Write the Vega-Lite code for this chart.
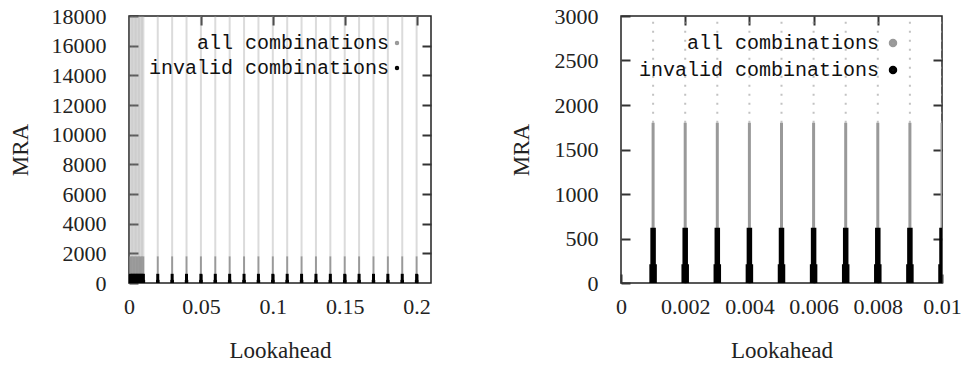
{
  "$schema": "https://vega.github.io/schema/vega-lite/v6.json",
  "padding": {"left": 8, "top": 4, "right": 0, "bottom": 0},
  "background": "white",
  "spacing": 76,
  "datasets": {
    "mra": [
      {"lookahead":0.001,"set":"all combinations","part":"sparse","lo":1800,"hi":18000},
      {"lookahead":0.002,"set":"all combinations","part":"sparse","lo":1800,"hi":18000},
      {"lookahead":0.003,"set":"all combinations","part":"sparse","lo":1800,"hi":18000},
      {"lookahead":0.004,"set":"all combinations","part":"sparse","lo":1800,"hi":18000},
      {"lookahead":0.005,"set":"all combinations","part":"sparse","lo":1800,"hi":18000},
      {"lookahead":0.006,"set":"all combinations","part":"sparse","lo":1800,"hi":18000},
      {"lookahead":0.007,"set":"all combinations","part":"sparse","lo":1800,"hi":18000},
      {"lookahead":0.008,"set":"all combinations","part":"sparse","lo":1800,"hi":18000},
      {"lookahead":0.009,"set":"all combinations","part":"sparse","lo":1800,"hi":18000},
      {"lookahead":0.01,"set":"all combinations","part":"sparse","lo":1800,"hi":18000},
      {"lookahead":0.02,"set":"all combinations","part":"sparse","lo":1800,"hi":18000},
      {"lookahead":0.03,"set":"all combinations","part":"sparse","lo":1800,"hi":18000},
      {"lookahead":0.04,"set":"all combinations","part":"sparse","lo":1800,"hi":18000},
      {"lookahead":0.05,"set":"all combinations","part":"sparse","lo":1800,"hi":18000},
      {"lookahead":0.06,"set":"all combinations","part":"sparse","lo":1800,"hi":18000},
      {"lookahead":0.07,"set":"all combinations","part":"sparse","lo":1800,"hi":18000},
      {"lookahead":0.08,"set":"all combinations","part":"sparse","lo":1800,"hi":18000},
      {"lookahead":0.09,"set":"all combinations","part":"sparse","lo":1800,"hi":18000},
      {"lookahead":0.1,"set":"all combinations","part":"sparse","lo":1800,"hi":18000},
      {"lookahead":0.11,"set":"all combinations","part":"sparse","lo":1800,"hi":18000},
      {"lookahead":0.12,"set":"all combinations","part":"sparse","lo":1800,"hi":18000},
      {"lookahead":0.13,"set":"all combinations","part":"sparse","lo":1800,"hi":18000},
      {"lookahead":0.14,"set":"all combinations","part":"sparse","lo":1800,"hi":18000},
      {"lookahead":0.15,"set":"all combinations","part":"sparse","lo":1800,"hi":18000},
      {"lookahead":0.16,"set":"all combinations","part":"sparse","lo":1800,"hi":18000},
      {"lookahead":0.17,"set":"all combinations","part":"sparse","lo":1800,"hi":18000},
      {"lookahead":0.18,"set":"all combinations","part":"sparse","lo":1800,"hi":18000},
      {"lookahead":0.19,"set":"all combinations","part":"sparse","lo":1800,"hi":18000},
      {"lookahead":0.2,"set":"all combinations","part":"sparse","lo":1800,"hi":18000},
      {"lookahead":0.001,"set":"all combinations","part":"dense","lo":0,"hi":1800},
      {"lookahead":0.002,"set":"all combinations","part":"dense","lo":0,"hi":1800},
      {"lookahead":0.003,"set":"all combinations","part":"dense","lo":0,"hi":1800},
      {"lookahead":0.004,"set":"all combinations","part":"dense","lo":0,"hi":1800},
      {"lookahead":0.005,"set":"all combinations","part":"dense","lo":0,"hi":1800},
      {"lookahead":0.006,"set":"all combinations","part":"dense","lo":0,"hi":1800},
      {"lookahead":0.007,"set":"all combinations","part":"dense","lo":0,"hi":1800},
      {"lookahead":0.008,"set":"all combinations","part":"dense","lo":0,"hi":1800},
      {"lookahead":0.009,"set":"all combinations","part":"dense","lo":0,"hi":1800},
      {"lookahead":0.01,"set":"all combinations","part":"dense","lo":0,"hi":1800},
      {"lookahead":0.02,"set":"all combinations","part":"dense","lo":0,"hi":1800},
      {"lookahead":0.03,"set":"all combinations","part":"dense","lo":0,"hi":1800},
      {"lookahead":0.04,"set":"all combinations","part":"dense","lo":0,"hi":1800},
      {"lookahead":0.05,"set":"all combinations","part":"dense","lo":0,"hi":1800},
      {"lookahead":0.06,"set":"all combinations","part":"dense","lo":0,"hi":1800},
      {"lookahead":0.07,"set":"all combinations","part":"dense","lo":0,"hi":1800},
      {"lookahead":0.08,"set":"all combinations","part":"dense","lo":0,"hi":1800},
      {"lookahead":0.09,"set":"all combinations","part":"dense","lo":0,"hi":1800},
      {"lookahead":0.1,"set":"all combinations","part":"dense","lo":0,"hi":1800},
      {"lookahead":0.11,"set":"all combinations","part":"dense","lo":0,"hi":1800},
      {"lookahead":0.12,"set":"all combinations","part":"dense","lo":0,"hi":1800},
      {"lookahead":0.13,"set":"all combinations","part":"dense","lo":0,"hi":1800},
      {"lookahead":0.14,"set":"all combinations","part":"dense","lo":0,"hi":1800},
      {"lookahead":0.15,"set":"all combinations","part":"dense","lo":0,"hi":1800},
      {"lookahead":0.16,"set":"all combinations","part":"dense","lo":0,"hi":1800},
      {"lookahead":0.17,"set":"all combinations","part":"dense","lo":0,"hi":1800},
      {"lookahead":0.18,"set":"all combinations","part":"dense","lo":0,"hi":1800},
      {"lookahead":0.19,"set":"all combinations","part":"dense","lo":0,"hi":1800},
      {"lookahead":0.2,"set":"all combinations","part":"dense","lo":0,"hi":1800},
      {"lookahead":0.001,"set":"invalid combinations","part":"core","lo":0,"hi":620},
      {"lookahead":0.002,"set":"invalid combinations","part":"core","lo":0,"hi":620},
      {"lookahead":0.003,"set":"invalid combinations","part":"core","lo":0,"hi":620},
      {"lookahead":0.004,"set":"invalid combinations","part":"core","lo":0,"hi":620},
      {"lookahead":0.005,"set":"invalid combinations","part":"core","lo":0,"hi":620},
      {"lookahead":0.006,"set":"invalid combinations","part":"core","lo":0,"hi":620},
      {"lookahead":0.007,"set":"invalid combinations","part":"core","lo":0,"hi":620},
      {"lookahead":0.008,"set":"invalid combinations","part":"core","lo":0,"hi":620},
      {"lookahead":0.009,"set":"invalid combinations","part":"core","lo":0,"hi":620},
      {"lookahead":0.01,"set":"invalid combinations","part":"core","lo":0,"hi":620},
      {"lookahead":0.02,"set":"invalid combinations","part":"core","lo":0,"hi":620},
      {"lookahead":0.03,"set":"invalid combinations","part":"core","lo":0,"hi":620},
      {"lookahead":0.04,"set":"invalid combinations","part":"core","lo":0,"hi":620},
      {"lookahead":0.05,"set":"invalid combinations","part":"core","lo":0,"hi":620},
      {"lookahead":0.06,"set":"invalid combinations","part":"core","lo":0,"hi":620},
      {"lookahead":0.07,"set":"invalid combinations","part":"core","lo":0,"hi":620},
      {"lookahead":0.08,"set":"invalid combinations","part":"core","lo":0,"hi":620},
      {"lookahead":0.09,"set":"invalid combinations","part":"core","lo":0,"hi":620},
      {"lookahead":0.1,"set":"invalid combinations","part":"core","lo":0,"hi":620},
      {"lookahead":0.11,"set":"invalid combinations","part":"core","lo":0,"hi":620},
      {"lookahead":0.12,"set":"invalid combinations","part":"core","lo":0,"hi":620},
      {"lookahead":0.13,"set":"invalid combinations","part":"core","lo":0,"hi":620},
      {"lookahead":0.14,"set":"invalid combinations","part":"core","lo":0,"hi":620},
      {"lookahead":0.15,"set":"invalid combinations","part":"core","lo":0,"hi":620},
      {"lookahead":0.16,"set":"invalid combinations","part":"core","lo":0,"hi":620},
      {"lookahead":0.17,"set":"invalid combinations","part":"core","lo":0,"hi":620},
      {"lookahead":0.18,"set":"invalid combinations","part":"core","lo":0,"hi":620},
      {"lookahead":0.19,"set":"invalid combinations","part":"core","lo":0,"hi":620},
      {"lookahead":0.2,"set":"invalid combinations","part":"core","lo":0,"hi":620},
      {"lookahead":0.001,"set":"invalid combinations","part":"base","lo":0,"hi":210},
      {"lookahead":0.002,"set":"invalid combinations","part":"base","lo":0,"hi":210},
      {"lookahead":0.003,"set":"invalid combinations","part":"base","lo":0,"hi":210},
      {"lookahead":0.004,"set":"invalid combinations","part":"base","lo":0,"hi":210},
      {"lookahead":0.005,"set":"invalid combinations","part":"base","lo":0,"hi":210},
      {"lookahead":0.006,"set":"invalid combinations","part":"base","lo":0,"hi":210},
      {"lookahead":0.007,"set":"invalid combinations","part":"base","lo":0,"hi":210},
      {"lookahead":0.008,"set":"invalid combinations","part":"base","lo":0,"hi":210},
      {"lookahead":0.009,"set":"invalid combinations","part":"base","lo":0,"hi":210},
      {"lookahead":0.01,"set":"invalid combinations","part":"base","lo":0,"hi":210},
      {"lookahead":0.02,"set":"invalid combinations","part":"base","lo":0,"hi":210},
      {"lookahead":0.03,"set":"invalid combinations","part":"base","lo":0,"hi":210},
      {"lookahead":0.04,"set":"invalid combinations","part":"base","lo":0,"hi":210},
      {"lookahead":0.05,"set":"invalid combinations","part":"base","lo":0,"hi":210},
      {"lookahead":0.06,"set":"invalid combinations","part":"base","lo":0,"hi":210},
      {"lookahead":0.07,"set":"invalid combinations","part":"base","lo":0,"hi":210},
      {"lookahead":0.08,"set":"invalid combinations","part":"base","lo":0,"hi":210},
      {"lookahead":0.09,"set":"invalid combinations","part":"base","lo":0,"hi":210},
      {"lookahead":0.1,"set":"invalid combinations","part":"base","lo":0,"hi":210},
      {"lookahead":0.11,"set":"invalid combinations","part":"base","lo":0,"hi":210},
      {"lookahead":0.12,"set":"invalid combinations","part":"base","lo":0,"hi":210},
      {"lookahead":0.13,"set":"invalid combinations","part":"base","lo":0,"hi":210},
      {"lookahead":0.14,"set":"invalid combinations","part":"base","lo":0,"hi":210},
      {"lookahead":0.15,"set":"invalid combinations","part":"base","lo":0,"hi":210},
      {"lookahead":0.16,"set":"invalid combinations","part":"base","lo":0,"hi":210},
      {"lookahead":0.17,"set":"invalid combinations","part":"base","lo":0,"hi":210},
      {"lookahead":0.18,"set":"invalid combinations","part":"base","lo":0,"hi":210},
      {"lookahead":0.19,"set":"invalid combinations","part":"base","lo":0,"hi":210},
      {"lookahead":0.2,"set":"invalid combinations","part":"base","lo":0,"hi":210}
    ]
  },
  "hconcat": [
    {
      "width": 302,
      "height": 267,
      "data": {"name": "mra"},
      "layer": [
        {
          "mark": {"type": "rule", "clip": true},
          "encoding": {
            "x": {"field": "lookahead", "type": "quantitative", "title": "Lookahead",
                  "scale": {"domain": [0, 0.21], "nice": false, "zero": false},
                  "axis": {"orient": "bottom", "values": [0, 0.05, 0.1, 0.15, 0.2], "format": "~g", "labelPadding": 22, "titlePadding": 22, "labelFlush": false, "labelOverlap": false}},
            "y": {"field": "lo", "type": "quantitative", "title": "MRA",
                  "scale": {"domain": [0, 18000], "nice": false},
                  "axis": {"orient": "left", "values": [0,2000,4000,6000,8000,10000,12000,14000,16000,18000], "format": "d", "labelPadding": 32, "titlePadding": 19, "labelFlush": false, "labelOverlap": false}},
            "y2": {"field": "hi"},
            "color": {"field": "set", "type": "nominal",
                      "scale": {"domain": ["all combinations", "invalid combinations"], "range": ["#999999", "#000000"]},
                      "legend": {"title": null, "orient": "none", "legendX": 258, "legendY": 17, "symbolType": "circle", "symbolSize": 6, "symbolStrokeWidth": 2, "labelAlign": "right", "labelOffset": -18}},
            "strokeWidth": {"field": "part", "type": "nominal",
                            "scale": {"type": "ordinal", "domain": ["sparse", "dense", "core", "base"], "range": [2, 2, 3, 3.5]}, "legend": null},
            "opacity": {"field": "part", "type": "nominal",
                        "scale": {"type": "ordinal", "domain": ["sparse", "dense", "core", "base"], "range": [0.35, 1, 1, 1]}, "legend": null}
          }
        },
        {
          "mark": {"type": "point", "opacity": 0},
          "encoding": {
            "x": {"field": "lookahead", "type": "quantitative",
                  "axis": {"orient": "top", "values": [0.05, 0.1, 0.15, 0.2], "labels": false, "title": null}},
            "y": {"field": "lo", "type": "quantitative",
                  "axis": {"orient": "right", "values": [2000,4000,6000,8000,10000,12000,14000,16000], "labels": false, "title": null}}
          }
        }
      ],
      "resolve": {"axis": {"x": "independent", "y": "independent"}}
    },
    {
      "width": 321,
      "height": 267,
      "data": {"name": "mra"},
      "layer": [
        {
          "mark": {"type": "rule", "clip": true},
          "encoding": {
            "x": {"field": "lookahead", "type": "quantitative", "title": "Lookahead",
                  "scale": {"domain": [0, 0.01], "nice": false, "zero": false},
                  "axis": {"orient": "bottom", "values": [0, 0.002, 0.004, 0.006, 0.008, 0.01], "format": "~g", "labelPadding": 22, "titlePadding": 22, "labelFlush": false, "labelOverlap": false}},
            "y": {"field": "lo", "type": "quantitative", "title": "MRA",
                  "scale": {"domain": [0, 3000], "nice": false},
                  "axis": {"orient": "left", "values": [0,500,1000,1500,2000,2500,3000], "format": "d", "labelPadding": 32, "titlePadding": 21, "labelFlush": false, "labelOverlap": false}},
            "y2": {"field": "hi"},
            "color": {"field": "set", "type": "nominal",
                      "scale": {"domain": ["all combinations", "invalid combinations"], "range": ["#999999", "#000000"]},
                      "legend": {"title": null, "orient": "none", "legendX": 262, "legendY": 17, "symbolType": "circle", "symbolSize": 20, "symbolStrokeWidth": 4, "labelAlign": "right", "labelOffset": -24}},
            "strokeWidth": {"field": "part", "type": "nominal",
                            "scale": {"type": "ordinal", "domain": ["sparse", "dense", "core", "base"], "range": [2, 3, 5.5, 7.5]}, "legend": null},
            "opacity": {"field": "part", "type": "nominal",
                        "scale": {"type": "ordinal", "domain": ["sparse", "dense", "core", "base"], "range": [0.6, 1, 1, 1]}, "legend": null},
            "strokeDash": {"field": "part", "type": "nominal",
                           "scale": {"type": "ordinal", "domain": ["sparse", "dense", "core", "base"], "range": [[2, 7], [1, 0], [1, 0], [1, 0]]}, "legend": null}
          }
        },
        {
          "mark": {"type": "point", "opacity": 0},
          "encoding": {
            "x": {"field": "lookahead", "type": "quantitative",
                  "axis": {"orient": "top", "values": [0.002, 0.004, 0.006, 0.008], "labels": false, "title": null}},
            "y": {"field": "lo", "type": "quantitative",
                  "axis": {"orient": "right", "values": [500,1000,1500,2000,2500], "labels": false, "title": null}}
          }
        }
      ],
      "resolve": {"axis": {"x": "independent", "y": "independent"}}
    }
  ],
  "resolve": {"scale": {"color": "independent", "strokeWidth": "independent", "opacity": "independent", "strokeDash": "independent", "x": "independent", "y": "independent"}, "legend": {"color": "independent"}},
  "config": {
    "view": {"stroke": "#222222", "strokeWidth": 1.5},
    "axis": {"domain": false, "grid": false, "tickSize": -9, "tickColor": "#333333", "tickWidth": 2, "zindex": 1,
             "labelFont": "Liberation Serif", "labelFontSize": 22, "labelColor": "#222222",
             "titleFont": "Liberation Serif", "titleFontSize": 23, "titleFontWeight": "normal", "titleColor": "#222222"},
    "legend": {"labelFont": "Liberation Mono", "labelFontSize": 20, "labelColor": "#111111", "labelLimit": 0, "rowPadding": 5, "padding": 0}
  }
}
